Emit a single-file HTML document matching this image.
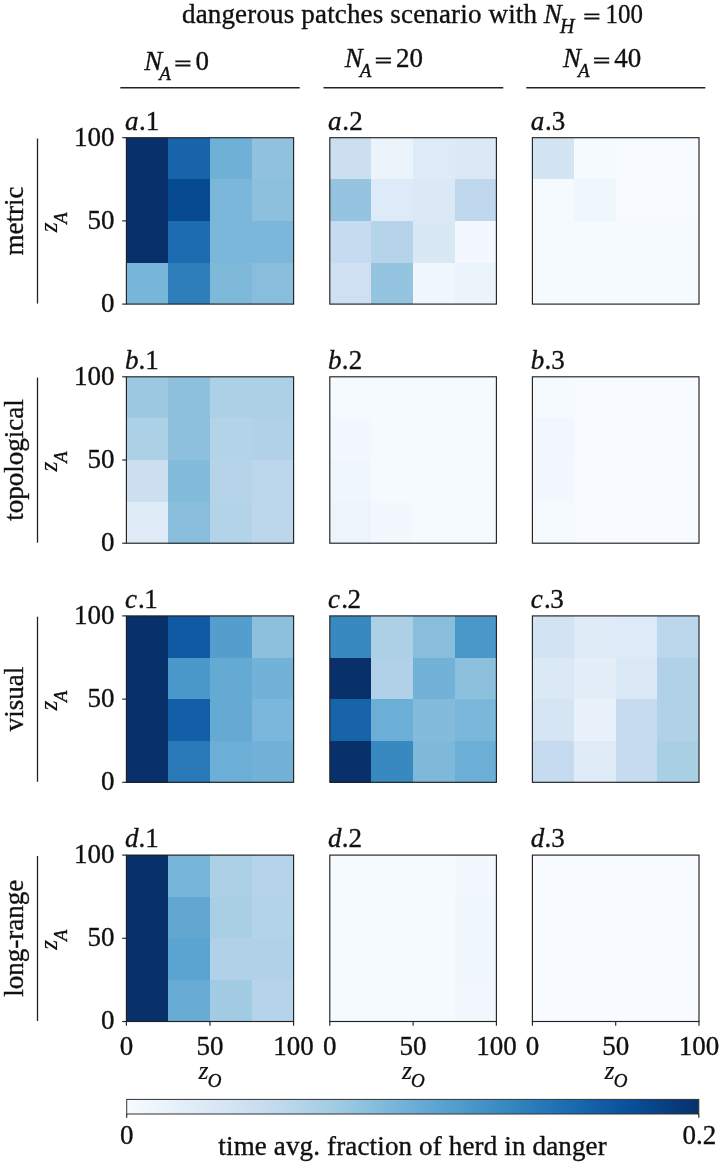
<!DOCTYPE html>
<html><head><meta charset="utf-8"><title>figure</title>
<style>html,body{margin:0;padding:0;background:#fff}svg{display:block}text{font-family:"Liberation Serif",serif;fill:#111;stroke:#111;stroke-width:0.35px}</style>
</head><body>
<svg width="720" height="1162" viewBox="0 0 720 1162">
<defs><linearGradient id="cb" x1="0" x2="1" y1="0" y2="0"><stop offset="0.0" stop-color="#f7fbff"/><stop offset="0.125" stop-color="#deebf7"/><stop offset="0.25" stop-color="#c6dbef"/><stop offset="0.375" stop-color="#9ecae1"/><stop offset="0.5" stop-color="#6baed6"/><stop offset="0.625" stop-color="#4292c6"/><stop offset="0.75" stop-color="#2171b5"/><stop offset="0.875" stop-color="#08519c"/><stop offset="1.0" stop-color="#08306b"/></linearGradient></defs>
<rect width="720" height="1162" fill="#fff"/>
<text x="182" y="22.9" font-size="27" text-anchor="start" textLength="355" lengthAdjust="spacing">dangerous patches scenario with</text>
<text x="543.8" y="22.9" font-size="27" font-style="italic" text-anchor="start">N</text>
<text x="560" y="32.5" font-size="20" font-style="italic" text-anchor="start">H</text>
<text transform="translate(583.5,23.299999999999997) scale(1.1,0.7)" font-size="27" style="stroke-width:1.2px">=</text>
<text x="605.6" y="22.9" font-size="27" text-anchor="start" textLength="37.4" lengthAdjust="spacingAndGlyphs">100</text>
<text x="144.3" y="69.8" font-size="27" font-style="italic" text-anchor="start">N</text>
<text x="159.3" y="79.5" font-size="19" font-style="italic" text-anchor="start">A</text>
<text transform="translate(174.60000000000002,70.2) scale(1.1,0.7)" font-size="27" style="stroke-width:1.2px">=</text>
<text x="195.60000000000002" y="69.8" font-size="27" text-anchor="start">0</text>
<text x="344.7" y="66.8" font-size="27" font-style="italic" text-anchor="start">N</text>
<text x="359.7" y="76.5" font-size="19" font-style="italic" text-anchor="start">A</text>
<text transform="translate(375.0,67.2) scale(1.1,0.7)" font-size="27" style="stroke-width:1.2px">=</text>
<text x="396.0" y="66.8" font-size="27" text-anchor="start">20</text>
<text x="563.0" y="66.8" font-size="27" font-style="italic" text-anchor="start">N</text>
<text x="578.0" y="76.5" font-size="19" font-style="italic" text-anchor="start">A</text>
<text transform="translate(593.3,67.2) scale(1.1,0.7)" font-size="27" style="stroke-width:1.2px">=</text>
<text x="614.3" y="66.8" font-size="27" text-anchor="start">40</text>
<line x1="120.3" y1="87.7" x2="299.7" y2="87.7" stroke="#222" stroke-width="1.5"/>
<line x1="323.5" y1="87.7" x2="503.3" y2="87.7" stroke="#222" stroke-width="1.5"/>
<line x1="526.3" y1="87.7" x2="705.3" y2="87.7" stroke="#222" stroke-width="1.5"/>
<text transform="translate(23.1,220.89999999999998) rotate(-90)" font-size="27" text-anchor="middle">metric</text>
<line x1="37.5" y1="138.5" x2="37.5" y2="303.6" stroke="#222" stroke-width="1.3"/>
<g transform="translate(57.4,220.89999999999998) rotate(-90)"><text x="-11.4" y="0" font-size="25.5" font-style="italic" style="stroke-width:0.15px">z</text><text x="-2.8" y="9.4" font-size="18.5" font-style="italic">A</text></g>
<rect x="126.40" y="137.70" width="42.10" height="41.90" fill="#08306b" shape-rendering="crispEdges"/>
<rect x="168.20" y="137.70" width="42.10" height="41.90" fill="#1764ab" shape-rendering="crispEdges"/>
<rect x="210.00" y="137.70" width="42.10" height="41.90" fill="#6fb0d7" shape-rendering="crispEdges"/>
<rect x="251.80" y="137.70" width="42.10" height="41.90" fill="#90c2de" shape-rendering="crispEdges"/>
<rect x="126.40" y="179.30" width="42.10" height="41.90" fill="#08306b" shape-rendering="crispEdges"/>
<rect x="168.20" y="179.30" width="42.10" height="41.90" fill="#084a92" shape-rendering="crispEdges"/>
<rect x="210.00" y="179.30" width="42.10" height="41.90" fill="#7bb7da" shape-rendering="crispEdges"/>
<rect x="251.80" y="179.30" width="42.10" height="41.90" fill="#8cc0dd" shape-rendering="crispEdges"/>
<rect x="126.40" y="220.90" width="42.10" height="41.90" fill="#08306b" shape-rendering="crispEdges"/>
<rect x="168.20" y="220.90" width="42.10" height="41.90" fill="#1d6cb1" shape-rendering="crispEdges"/>
<rect x="210.00" y="220.90" width="42.10" height="41.90" fill="#7bb7da" shape-rendering="crispEdges"/>
<rect x="251.80" y="220.90" width="42.10" height="41.90" fill="#7bb7da" shape-rendering="crispEdges"/>
<rect x="126.40" y="262.50" width="42.10" height="41.90" fill="#77b5d9" shape-rendering="crispEdges"/>
<rect x="168.20" y="262.50" width="42.10" height="41.90" fill="#2e7ebc" shape-rendering="crispEdges"/>
<rect x="210.00" y="262.50" width="42.10" height="41.90" fill="#7fb9da" shape-rendering="crispEdges"/>
<rect x="251.80" y="262.50" width="42.10" height="41.90" fill="#88bedc" shape-rendering="crispEdges"/>
<rect x="126.4" y="137.7" width="167.2" height="166.4" fill="none" stroke="#222" stroke-width="1.15"/>
<text x="125.10000000000001" y="129.5" font-size="27" text-anchor="start"><tspan font-style="italic">a</tspan><tspan x="138.9">.</tspan><tspan x="145.8">1</tspan></text>
<line x1="122.2" y1="137.7" x2="126.4" y2="137.7" stroke="#222" stroke-width="1.15"/>
<text x="114.4" y="145.6" font-size="27" text-anchor="end">100</text>
<line x1="122.2" y1="220.89999999999998" x2="126.4" y2="220.89999999999998" stroke="#222" stroke-width="1.15"/>
<text x="114.4" y="228.79999999999998" font-size="27" text-anchor="end">50</text>
<line x1="122.2" y1="304.1" x2="126.4" y2="304.1" stroke="#222" stroke-width="1.15"/>
<text x="114.4" y="312.0" font-size="27" text-anchor="end">0</text>
<rect x="329.80" y="137.70" width="41.95" height="41.90" fill="#ccdff1" shape-rendering="crispEdges"/>
<rect x="371.45" y="137.70" width="41.95" height="41.90" fill="#ebf3fb" shape-rendering="crispEdges"/>
<rect x="413.10" y="137.70" width="41.95" height="41.90" fill="#ddeaf7" shape-rendering="crispEdges"/>
<rect x="454.75" y="137.70" width="41.95" height="41.90" fill="#dbe9f6" shape-rendering="crispEdges"/>
<rect x="329.80" y="179.30" width="41.95" height="41.90" fill="#94c4df" shape-rendering="crispEdges"/>
<rect x="371.45" y="179.30" width="41.95" height="41.90" fill="#ddeaf7" shape-rendering="crispEdges"/>
<rect x="413.10" y="179.30" width="41.95" height="41.90" fill="#dbe9f6" shape-rendering="crispEdges"/>
<rect x="454.75" y="179.30" width="41.95" height="41.90" fill="#c0d8ed" shape-rendering="crispEdges"/>
<rect x="329.80" y="220.90" width="41.95" height="41.90" fill="#c6dbef" shape-rendering="crispEdges"/>
<rect x="371.45" y="220.90" width="41.95" height="41.90" fill="#b6d4e9" shape-rendering="crispEdges"/>
<rect x="413.10" y="220.90" width="41.95" height="41.90" fill="#d9e8f5" shape-rendering="crispEdges"/>
<rect x="454.75" y="220.90" width="41.95" height="41.90" fill="#f3f8fe" shape-rendering="crispEdges"/>
<rect x="329.80" y="262.50" width="41.95" height="41.90" fill="#cee0f2" shape-rendering="crispEdges"/>
<rect x="371.45" y="262.50" width="41.95" height="41.90" fill="#94c4df" shape-rendering="crispEdges"/>
<rect x="413.10" y="262.50" width="41.95" height="41.90" fill="#eff6fc" shape-rendering="crispEdges"/>
<rect x="454.75" y="262.50" width="41.95" height="41.90" fill="#ebf3fb" shape-rendering="crispEdges"/>
<rect x="329.8" y="137.7" width="166.6" height="166.4" fill="none" stroke="#222" stroke-width="1.15"/>
<text x="328.1" y="129.5" font-size="27" text-anchor="start"><tspan font-style="italic">a</tspan><tspan x="342.3">.</tspan><tspan x="349.2">2</tspan></text>
<rect x="532.40" y="137.70" width="41.95" height="41.90" fill="#d3e4f3" shape-rendering="crispEdges"/>
<rect x="574.05" y="137.70" width="41.95" height="41.90" fill="#f5fafe" shape-rendering="crispEdges"/>
<rect x="615.70" y="137.70" width="41.95" height="41.90" fill="#f7fbff" shape-rendering="crispEdges"/>
<rect x="657.35" y="137.70" width="41.95" height="41.90" fill="#f7fbff" shape-rendering="crispEdges"/>
<rect x="532.40" y="179.30" width="41.95" height="41.90" fill="#f5fafe" shape-rendering="crispEdges"/>
<rect x="574.05" y="179.30" width="41.95" height="41.90" fill="#eff6fc" shape-rendering="crispEdges"/>
<rect x="615.70" y="179.30" width="41.95" height="41.90" fill="#f7fbff" shape-rendering="crispEdges"/>
<rect x="657.35" y="179.30" width="41.95" height="41.90" fill="#f7fbff" shape-rendering="crispEdges"/>
<rect x="532.40" y="220.90" width="41.95" height="41.90" fill="#f5fafe" shape-rendering="crispEdges"/>
<rect x="574.05" y="220.90" width="41.95" height="41.90" fill="#f5fafe" shape-rendering="crispEdges"/>
<rect x="615.70" y="220.90" width="41.95" height="41.90" fill="#f5fafe" shape-rendering="crispEdges"/>
<rect x="657.35" y="220.90" width="41.95" height="41.90" fill="#f5fafe" shape-rendering="crispEdges"/>
<rect x="532.40" y="262.50" width="41.95" height="41.90" fill="#f5fafe" shape-rendering="crispEdges"/>
<rect x="574.05" y="262.50" width="41.95" height="41.90" fill="#f5fafe" shape-rendering="crispEdges"/>
<rect x="615.70" y="262.50" width="41.95" height="41.90" fill="#f5fafe" shape-rendering="crispEdges"/>
<rect x="657.35" y="262.50" width="41.95" height="41.90" fill="#f5fafe" shape-rendering="crispEdges"/>
<rect x="532.4" y="137.7" width="166.6" height="166.4" fill="none" stroke="#222" stroke-width="1.15"/>
<text x="530.6999999999999" y="129.5" font-size="27" text-anchor="start"><tspan font-style="italic">a</tspan><tspan x="544.9">.</tspan><tspan x="551.8">3</tspan></text>
<text transform="translate(23.1,460.0) rotate(-90)" font-size="27" text-anchor="middle">topological</text>
<line x1="37.5" y1="377.6" x2="37.5" y2="542.7" stroke="#222" stroke-width="1.3"/>
<g transform="translate(57.4,460.0) rotate(-90)"><text x="-11.4" y="0" font-size="25.5" font-style="italic" style="stroke-width:0.15px">z</text><text x="-2.8" y="9.4" font-size="18.5" font-style="italic">A</text></g>
<rect x="126.40" y="376.80" width="42.10" height="41.90" fill="#9cc9e1" shape-rendering="crispEdges"/>
<rect x="168.20" y="376.80" width="42.10" height="41.90" fill="#8cc0dd" shape-rendering="crispEdges"/>
<rect x="210.00" y="376.80" width="42.10" height="41.90" fill="#acd0e6" shape-rendering="crispEdges"/>
<rect x="251.80" y="376.80" width="42.10" height="41.90" fill="#acd0e6" shape-rendering="crispEdges"/>
<rect x="126.40" y="418.40" width="42.10" height="41.90" fill="#acd0e6" shape-rendering="crispEdges"/>
<rect x="168.20" y="418.40" width="42.10" height="41.90" fill="#8cc0dd" shape-rendering="crispEdges"/>
<rect x="210.00" y="418.40" width="42.10" height="41.90" fill="#b3d3e8" shape-rendering="crispEdges"/>
<rect x="251.80" y="418.40" width="42.10" height="41.90" fill="#b0d1e7" shape-rendering="crispEdges"/>
<rect x="126.40" y="460.00" width="42.10" height="41.90" fill="#ccdff1" shape-rendering="crispEdges"/>
<rect x="168.20" y="460.00" width="42.10" height="41.90" fill="#83bbdb" shape-rendering="crispEdges"/>
<rect x="210.00" y="460.00" width="42.10" height="41.90" fill="#b6d4e9" shape-rendering="crispEdges"/>
<rect x="251.80" y="460.00" width="42.10" height="41.90" fill="#bcd7ec" shape-rendering="crispEdges"/>
<rect x="126.40" y="501.60" width="42.10" height="41.90" fill="#dfecf7" shape-rendering="crispEdges"/>
<rect x="168.20" y="501.60" width="42.10" height="41.90" fill="#88bedc" shape-rendering="crispEdges"/>
<rect x="210.00" y="501.60" width="42.10" height="41.90" fill="#b3d3e8" shape-rendering="crispEdges"/>
<rect x="251.80" y="501.60" width="42.10" height="41.90" fill="#bcd7ec" shape-rendering="crispEdges"/>
<rect x="126.4" y="376.8" width="167.2" height="166.4" fill="none" stroke="#222" stroke-width="1.15"/>
<text x="125.10000000000001" y="368.6" font-size="27" text-anchor="start"><tspan font-style="italic">b</tspan><tspan x="138.4">.</tspan><tspan x="145.3">1</tspan></text>
<line x1="122.2" y1="376.8" x2="126.4" y2="376.8" stroke="#222" stroke-width="1.15"/>
<text x="114.4" y="384.7" font-size="27" text-anchor="end">100</text>
<line x1="122.2" y1="460.0" x2="126.4" y2="460.0" stroke="#222" stroke-width="1.15"/>
<text x="114.4" y="467.9" font-size="27" text-anchor="end">50</text>
<line x1="122.2" y1="543.2" x2="126.4" y2="543.2" stroke="#222" stroke-width="1.15"/>
<text x="114.4" y="551.1" font-size="27" text-anchor="end">0</text>
<rect x="329.80" y="376.80" width="41.95" height="41.90" fill="#f5fafe" shape-rendering="crispEdges"/>
<rect x="371.45" y="376.80" width="41.95" height="41.90" fill="#f5fafe" shape-rendering="crispEdges"/>
<rect x="413.10" y="376.80" width="41.95" height="41.90" fill="#f5fafe" shape-rendering="crispEdges"/>
<rect x="454.75" y="376.80" width="41.95" height="41.90" fill="#f5fafe" shape-rendering="crispEdges"/>
<rect x="329.80" y="418.40" width="41.95" height="41.90" fill="#f3f8fe" shape-rendering="crispEdges"/>
<rect x="371.45" y="418.40" width="41.95" height="41.90" fill="#f5fafe" shape-rendering="crispEdges"/>
<rect x="413.10" y="418.40" width="41.95" height="41.90" fill="#f5fafe" shape-rendering="crispEdges"/>
<rect x="454.75" y="418.40" width="41.95" height="41.90" fill="#f5fafe" shape-rendering="crispEdges"/>
<rect x="329.80" y="460.00" width="41.95" height="41.90" fill="#eff6fc" shape-rendering="crispEdges"/>
<rect x="371.45" y="460.00" width="41.95" height="41.90" fill="#f5fafe" shape-rendering="crispEdges"/>
<rect x="413.10" y="460.00" width="41.95" height="41.90" fill="#f5fafe" shape-rendering="crispEdges"/>
<rect x="454.75" y="460.00" width="41.95" height="41.90" fill="#f5fafe" shape-rendering="crispEdges"/>
<rect x="329.80" y="501.60" width="41.95" height="41.90" fill="#edf5fc" shape-rendering="crispEdges"/>
<rect x="371.45" y="501.60" width="41.95" height="41.90" fill="#f3f8fe" shape-rendering="crispEdges"/>
<rect x="413.10" y="501.60" width="41.95" height="41.90" fill="#f5fafe" shape-rendering="crispEdges"/>
<rect x="454.75" y="501.60" width="41.95" height="41.90" fill="#f5fafe" shape-rendering="crispEdges"/>
<rect x="329.8" y="376.8" width="166.6" height="166.4" fill="none" stroke="#222" stroke-width="1.15"/>
<text x="328.1" y="368.6" font-size="27" text-anchor="start"><tspan font-style="italic">b</tspan><tspan x="341.8">.</tspan><tspan x="348.7">2</tspan></text>
<rect x="532.40" y="376.80" width="41.95" height="41.90" fill="#f5fafe" shape-rendering="crispEdges"/>
<rect x="574.05" y="376.80" width="41.95" height="41.90" fill="#f7fbff" shape-rendering="crispEdges"/>
<rect x="615.70" y="376.80" width="41.95" height="41.90" fill="#f7fbff" shape-rendering="crispEdges"/>
<rect x="657.35" y="376.80" width="41.95" height="41.90" fill="#f7fbff" shape-rendering="crispEdges"/>
<rect x="532.40" y="418.40" width="41.95" height="41.90" fill="#f1f7fd" shape-rendering="crispEdges"/>
<rect x="574.05" y="418.40" width="41.95" height="41.90" fill="#f7fbff" shape-rendering="crispEdges"/>
<rect x="615.70" y="418.40" width="41.95" height="41.90" fill="#f7fbff" shape-rendering="crispEdges"/>
<rect x="657.35" y="418.40" width="41.95" height="41.90" fill="#f7fbff" shape-rendering="crispEdges"/>
<rect x="532.40" y="460.00" width="41.95" height="41.90" fill="#f3f8fe" shape-rendering="crispEdges"/>
<rect x="574.05" y="460.00" width="41.95" height="41.90" fill="#f7fbff" shape-rendering="crispEdges"/>
<rect x="615.70" y="460.00" width="41.95" height="41.90" fill="#f7fbff" shape-rendering="crispEdges"/>
<rect x="657.35" y="460.00" width="41.95" height="41.90" fill="#f7fbff" shape-rendering="crispEdges"/>
<rect x="532.40" y="501.60" width="41.95" height="41.90" fill="#f5fafe" shape-rendering="crispEdges"/>
<rect x="574.05" y="501.60" width="41.95" height="41.90" fill="#f7fbff" shape-rendering="crispEdges"/>
<rect x="615.70" y="501.60" width="41.95" height="41.90" fill="#f7fbff" shape-rendering="crispEdges"/>
<rect x="657.35" y="501.60" width="41.95" height="41.90" fill="#f7fbff" shape-rendering="crispEdges"/>
<rect x="532.4" y="376.8" width="166.6" height="166.4" fill="none" stroke="#222" stroke-width="1.15"/>
<text x="530.6999999999999" y="368.6" font-size="27" text-anchor="start"><tspan font-style="italic">b</tspan><tspan x="544.4">.</tspan><tspan x="551.3">3</tspan></text>
<text transform="translate(23.1,699.1) rotate(-90)" font-size="27" text-anchor="middle">visual</text>
<line x1="37.5" y1="616.6999999999999" x2="37.5" y2="781.8" stroke="#222" stroke-width="1.3"/>
<g transform="translate(57.4,699.1) rotate(-90)"><text x="-11.4" y="0" font-size="25.5" font-style="italic" style="stroke-width:0.15px">z</text><text x="-2.8" y="9.4" font-size="18.5" font-style="italic">A</text></g>
<rect x="126.40" y="615.90" width="42.10" height="41.90" fill="#08306b" shape-rendering="crispEdges"/>
<rect x="168.20" y="615.90" width="42.10" height="41.90" fill="#0f5aa3" shape-rendering="crispEdges"/>
<rect x="210.00" y="615.90" width="42.10" height="41.90" fill="#549ecd" shape-rendering="crispEdges"/>
<rect x="251.80" y="615.90" width="42.10" height="41.90" fill="#8cc0dd" shape-rendering="crispEdges"/>
<rect x="126.40" y="657.50" width="42.10" height="41.90" fill="#08306b" shape-rendering="crispEdges"/>
<rect x="168.20" y="657.50" width="42.10" height="41.90" fill="#4a98c9" shape-rendering="crispEdges"/>
<rect x="210.00" y="657.50" width="42.10" height="41.90" fill="#64aad3" shape-rendering="crispEdges"/>
<rect x="251.80" y="657.50" width="42.10" height="41.90" fill="#73b2d8" shape-rendering="crispEdges"/>
<rect x="126.40" y="699.10" width="42.10" height="41.90" fill="#08306b" shape-rendering="crispEdges"/>
<rect x="168.20" y="699.10" width="42.10" height="41.90" fill="#135fa7" shape-rendering="crispEdges"/>
<rect x="210.00" y="699.10" width="42.10" height="41.90" fill="#64aad3" shape-rendering="crispEdges"/>
<rect x="251.80" y="699.10" width="42.10" height="41.90" fill="#7bb7da" shape-rendering="crispEdges"/>
<rect x="126.40" y="740.70" width="42.10" height="41.90" fill="#08306b" shape-rendering="crispEdges"/>
<rect x="168.20" y="740.70" width="42.10" height="41.90" fill="#2979b9" shape-rendering="crispEdges"/>
<rect x="210.00" y="740.70" width="42.10" height="41.90" fill="#6baed6" shape-rendering="crispEdges"/>
<rect x="251.80" y="740.70" width="42.10" height="41.90" fill="#73b2d8" shape-rendering="crispEdges"/>
<rect x="126.4" y="615.9" width="167.2" height="166.4" fill="none" stroke="#222" stroke-width="1.15"/>
<text x="125.10000000000001" y="607.6999999999999" font-size="27" text-anchor="start"><tspan font-style="italic">c</tspan><tspan x="137.9">.</tspan><tspan x="144.2">1</tspan></text>
<line x1="122.2" y1="615.9" x2="126.4" y2="615.9" stroke="#222" stroke-width="1.15"/>
<text x="114.4" y="623.8" font-size="27" text-anchor="end">100</text>
<line x1="122.2" y1="699.1" x2="126.4" y2="699.1" stroke="#222" stroke-width="1.15"/>
<text x="114.4" y="707.0" font-size="27" text-anchor="end">50</text>
<line x1="122.2" y1="782.3" x2="126.4" y2="782.3" stroke="#222" stroke-width="1.15"/>
<text x="114.4" y="790.1999999999999" font-size="27" text-anchor="end">0</text>
<rect x="329.80" y="615.90" width="41.95" height="41.90" fill="#3989c1" shape-rendering="crispEdges"/>
<rect x="371.45" y="615.90" width="41.95" height="41.90" fill="#acd0e6" shape-rendering="crispEdges"/>
<rect x="413.10" y="615.90" width="41.95" height="41.90" fill="#88bedc" shape-rendering="crispEdges"/>
<rect x="454.75" y="615.90" width="41.95" height="41.90" fill="#4a98c9" shape-rendering="crispEdges"/>
<rect x="329.80" y="657.50" width="41.95" height="41.90" fill="#08306b" shape-rendering="crispEdges"/>
<rect x="371.45" y="657.50" width="41.95" height="41.90" fill="#b0d1e7" shape-rendering="crispEdges"/>
<rect x="413.10" y="657.50" width="41.95" height="41.90" fill="#73b2d8" shape-rendering="crispEdges"/>
<rect x="454.75" y="657.50" width="41.95" height="41.90" fill="#8cc0dd" shape-rendering="crispEdges"/>
<rect x="329.80" y="699.10" width="41.95" height="41.90" fill="#1764ab" shape-rendering="crispEdges"/>
<rect x="371.45" y="699.10" width="41.95" height="41.90" fill="#6baed6" shape-rendering="crispEdges"/>
<rect x="413.10" y="699.10" width="41.95" height="41.90" fill="#83bbdb" shape-rendering="crispEdges"/>
<rect x="454.75" y="699.10" width="41.95" height="41.90" fill="#7bb7da" shape-rendering="crispEdges"/>
<rect x="329.80" y="740.70" width="41.95" height="41.90" fill="#08306b" shape-rendering="crispEdges"/>
<rect x="371.45" y="740.70" width="41.95" height="41.90" fill="#3989c1" shape-rendering="crispEdges"/>
<rect x="413.10" y="740.70" width="41.95" height="41.90" fill="#7fb9da" shape-rendering="crispEdges"/>
<rect x="454.75" y="740.70" width="41.95" height="41.90" fill="#6baed6" shape-rendering="crispEdges"/>
<rect x="329.8" y="615.9" width="166.6" height="166.4" fill="none" stroke="#222" stroke-width="1.15"/>
<text x="328.1" y="607.6999999999999" font-size="27" text-anchor="start"><tspan font-style="italic">c</tspan><tspan x="341.3">.</tspan><tspan x="347.6">2</tspan></text>
<rect x="532.40" y="615.90" width="41.95" height="41.90" fill="#d2e3f3" shape-rendering="crispEdges"/>
<rect x="574.05" y="615.90" width="41.95" height="41.90" fill="#dfecf7" shape-rendering="crispEdges"/>
<rect x="615.70" y="615.90" width="41.95" height="41.90" fill="#ddeaf7" shape-rendering="crispEdges"/>
<rect x="657.35" y="615.90" width="41.95" height="41.90" fill="#bcd7ec" shape-rendering="crispEdges"/>
<rect x="532.40" y="657.50" width="41.95" height="41.90" fill="#dbe9f6" shape-rendering="crispEdges"/>
<rect x="574.05" y="657.50" width="41.95" height="41.90" fill="#e3eef9" shape-rendering="crispEdges"/>
<rect x="615.70" y="657.50" width="41.95" height="41.90" fill="#dbe9f6" shape-rendering="crispEdges"/>
<rect x="657.35" y="657.50" width="41.95" height="41.90" fill="#b0d1e7" shape-rendering="crispEdges"/>
<rect x="532.40" y="699.10" width="41.95" height="41.90" fill="#d5e5f4" shape-rendering="crispEdges"/>
<rect x="574.05" y="699.10" width="41.95" height="41.90" fill="#e9f2fb" shape-rendering="crispEdges"/>
<rect x="615.70" y="699.10" width="41.95" height="41.90" fill="#c6dbef" shape-rendering="crispEdges"/>
<rect x="657.35" y="699.10" width="41.95" height="41.90" fill="#b0d1e7" shape-rendering="crispEdges"/>
<rect x="532.40" y="740.70" width="41.95" height="41.90" fill="#c6dbef" shape-rendering="crispEdges"/>
<rect x="574.05" y="740.70" width="41.95" height="41.90" fill="#dfecf7" shape-rendering="crispEdges"/>
<rect x="615.70" y="740.70" width="41.95" height="41.90" fill="#c6dbef" shape-rendering="crispEdges"/>
<rect x="657.35" y="740.70" width="41.95" height="41.90" fill="#a9cfe5" shape-rendering="crispEdges"/>
<rect x="532.4" y="615.9" width="166.6" height="166.4" fill="none" stroke="#222" stroke-width="1.15"/>
<text x="530.6999999999999" y="607.6999999999999" font-size="27" text-anchor="start"><tspan font-style="italic">c</tspan><tspan x="543.9">.</tspan><tspan x="550.2">3</tspan></text>
<text transform="translate(23.1,938.3000000000001) rotate(-90)" font-size="27" text-anchor="middle">long-range</text>
<line x1="37.5" y1="855.9" x2="37.5" y2="1021.0" stroke="#222" stroke-width="1.3"/>
<g transform="translate(57.4,938.3000000000001) rotate(-90)"><text x="-11.4" y="0" font-size="25.5" font-style="italic" style="stroke-width:0.15px">z</text><text x="-2.8" y="9.4" font-size="18.5" font-style="italic">A</text></g>
<rect x="126.40" y="855.10" width="42.10" height="41.90" fill="#08306b" shape-rendering="crispEdges"/>
<rect x="168.20" y="855.10" width="42.10" height="41.90" fill="#77b5d9" shape-rendering="crispEdges"/>
<rect x="210.00" y="855.10" width="42.10" height="41.90" fill="#acd0e6" shape-rendering="crispEdges"/>
<rect x="251.80" y="855.10" width="42.10" height="41.90" fill="#b6d4e9" shape-rendering="crispEdges"/>
<rect x="126.40" y="896.70" width="42.10" height="41.90" fill="#08306b" shape-rendering="crispEdges"/>
<rect x="168.20" y="896.70" width="42.10" height="41.90" fill="#61a7d2" shape-rendering="crispEdges"/>
<rect x="210.00" y="896.70" width="42.10" height="41.90" fill="#a9cfe5" shape-rendering="crispEdges"/>
<rect x="251.80" y="896.70" width="42.10" height="41.90" fill="#b3d3e8" shape-rendering="crispEdges"/>
<rect x="126.40" y="938.30" width="42.10" height="41.90" fill="#08306b" shape-rendering="crispEdges"/>
<rect x="168.20" y="938.30" width="42.10" height="41.90" fill="#5ba3d0" shape-rendering="crispEdges"/>
<rect x="210.00" y="938.30" width="42.10" height="41.90" fill="#b0d1e7" shape-rendering="crispEdges"/>
<rect x="251.80" y="938.30" width="42.10" height="41.90" fill="#b0d1e7" shape-rendering="crispEdges"/>
<rect x="126.40" y="979.90" width="42.10" height="41.90" fill="#08306b" shape-rendering="crispEdges"/>
<rect x="168.20" y="979.90" width="42.10" height="41.90" fill="#68acd5" shape-rendering="crispEdges"/>
<rect x="210.00" y="979.90" width="42.10" height="41.90" fill="#a0cbe2" shape-rendering="crispEdges"/>
<rect x="251.80" y="979.90" width="42.10" height="41.90" fill="#b6d4e9" shape-rendering="crispEdges"/>
<rect x="126.4" y="855.1" width="167.2" height="166.4" fill="none" stroke="#222" stroke-width="1.15"/>
<text x="125.10000000000001" y="846.9" font-size="27" text-anchor="start"><tspan font-style="italic">d</tspan><tspan x="138.4">.</tspan><tspan x="145.2">1</tspan></text>
<line x1="122.2" y1="855.1" x2="126.4" y2="855.1" stroke="#222" stroke-width="1.15"/>
<text x="114.4" y="863.0" font-size="27" text-anchor="end">100</text>
<line x1="122.2" y1="938.3000000000001" x2="126.4" y2="938.3000000000001" stroke="#222" stroke-width="1.15"/>
<text x="114.4" y="946.2" font-size="27" text-anchor="end">50</text>
<line x1="122.2" y1="1021.5" x2="126.4" y2="1021.5" stroke="#222" stroke-width="1.15"/>
<text x="114.4" y="1029.4" font-size="27" text-anchor="end">0</text>
<line x1="126.4" y1="1021.5" x2="126.4" y2="1025.7" stroke="#222" stroke-width="1.15"/>
<text x="126.4" y="1054.6" font-size="27" text-anchor="middle">0</text>
<line x1="210.0" y1="1021.5" x2="210.0" y2="1025.7" stroke="#222" stroke-width="1.15"/>
<text x="210.0" y="1054.6" font-size="27" text-anchor="middle">50</text>
<line x1="293.6" y1="1021.5" x2="293.6" y2="1025.7" stroke="#222" stroke-width="1.15"/>
<text x="293.6" y="1054.6" font-size="27" text-anchor="middle">100</text>
<text x="198.60000000000002" y="1079" font-size="25.5" font-style="italic" text-anchor="start" style="stroke-width:0.15px">z</text>
<text x="207.7" y="1086.8" font-size="19" font-style="italic" text-anchor="start">O</text>
<rect x="329.80" y="855.10" width="41.95" height="41.90" fill="#f5fafe" shape-rendering="crispEdges"/>
<rect x="371.45" y="855.10" width="41.95" height="41.90" fill="#f5fafe" shape-rendering="crispEdges"/>
<rect x="413.10" y="855.10" width="41.95" height="41.90" fill="#f5fafe" shape-rendering="crispEdges"/>
<rect x="454.75" y="855.10" width="41.95" height="41.90" fill="#f3f8fe" shape-rendering="crispEdges"/>
<rect x="329.80" y="896.70" width="41.95" height="41.90" fill="#f5fafe" shape-rendering="crispEdges"/>
<rect x="371.45" y="896.70" width="41.95" height="41.90" fill="#f5fafe" shape-rendering="crispEdges"/>
<rect x="413.10" y="896.70" width="41.95" height="41.90" fill="#f5fafe" shape-rendering="crispEdges"/>
<rect x="454.75" y="896.70" width="41.95" height="41.90" fill="#eff6fc" shape-rendering="crispEdges"/>
<rect x="329.80" y="938.30" width="41.95" height="41.90" fill="#f5fafe" shape-rendering="crispEdges"/>
<rect x="371.45" y="938.30" width="41.95" height="41.90" fill="#f5fafe" shape-rendering="crispEdges"/>
<rect x="413.10" y="938.30" width="41.95" height="41.90" fill="#f5fafe" shape-rendering="crispEdges"/>
<rect x="454.75" y="938.30" width="41.95" height="41.90" fill="#eff6fc" shape-rendering="crispEdges"/>
<rect x="329.80" y="979.90" width="41.95" height="41.90" fill="#f5fafe" shape-rendering="crispEdges"/>
<rect x="371.45" y="979.90" width="41.95" height="41.90" fill="#f5fafe" shape-rendering="crispEdges"/>
<rect x="413.10" y="979.90" width="41.95" height="41.90" fill="#f5fafe" shape-rendering="crispEdges"/>
<rect x="454.75" y="979.90" width="41.95" height="41.90" fill="#f1f7fd" shape-rendering="crispEdges"/>
<rect x="329.8" y="855.1" width="166.6" height="166.4" fill="none" stroke="#222" stroke-width="1.15"/>
<text x="328.1" y="846.9" font-size="27" text-anchor="start"><tspan font-style="italic">d</tspan><tspan x="341.8">.</tspan><tspan x="348.6">2</tspan></text>
<line x1="329.8" y1="1021.5" x2="329.8" y2="1025.7" stroke="#222" stroke-width="1.15"/>
<text x="329.8" y="1054.6" font-size="27" text-anchor="middle">0</text>
<line x1="413.1" y1="1021.5" x2="413.1" y2="1025.7" stroke="#222" stroke-width="1.15"/>
<text x="413.1" y="1054.6" font-size="27" text-anchor="middle">50</text>
<line x1="496.4" y1="1021.5" x2="496.4" y2="1025.7" stroke="#222" stroke-width="1.15"/>
<text x="496.4" y="1054.6" font-size="27" text-anchor="middle">100</text>
<text x="402.0" y="1079" font-size="25.5" font-style="italic" text-anchor="start" style="stroke-width:0.15px">z</text>
<text x="411.1" y="1086.8" font-size="19" font-style="italic" text-anchor="start">O</text>
<rect x="532.40" y="855.10" width="41.95" height="41.90" fill="#f7fbff" shape-rendering="crispEdges"/>
<rect x="574.05" y="855.10" width="41.95" height="41.90" fill="#f7fbff" shape-rendering="crispEdges"/>
<rect x="615.70" y="855.10" width="41.95" height="41.90" fill="#f7fbff" shape-rendering="crispEdges"/>
<rect x="657.35" y="855.10" width="41.95" height="41.90" fill="#f7fbff" shape-rendering="crispEdges"/>
<rect x="532.40" y="896.70" width="41.95" height="41.90" fill="#f7fbff" shape-rendering="crispEdges"/>
<rect x="574.05" y="896.70" width="41.95" height="41.90" fill="#f7fbff" shape-rendering="crispEdges"/>
<rect x="615.70" y="896.70" width="41.95" height="41.90" fill="#f7fbff" shape-rendering="crispEdges"/>
<rect x="657.35" y="896.70" width="41.95" height="41.90" fill="#f7fbff" shape-rendering="crispEdges"/>
<rect x="532.40" y="938.30" width="41.95" height="41.90" fill="#f7fbff" shape-rendering="crispEdges"/>
<rect x="574.05" y="938.30" width="41.95" height="41.90" fill="#f7fbff" shape-rendering="crispEdges"/>
<rect x="615.70" y="938.30" width="41.95" height="41.90" fill="#f7fbff" shape-rendering="crispEdges"/>
<rect x="657.35" y="938.30" width="41.95" height="41.90" fill="#f7fbff" shape-rendering="crispEdges"/>
<rect x="532.40" y="979.90" width="41.95" height="41.90" fill="#f7fbff" shape-rendering="crispEdges"/>
<rect x="574.05" y="979.90" width="41.95" height="41.90" fill="#f7fbff" shape-rendering="crispEdges"/>
<rect x="615.70" y="979.90" width="41.95" height="41.90" fill="#f7fbff" shape-rendering="crispEdges"/>
<rect x="657.35" y="979.90" width="41.95" height="41.90" fill="#f7fbff" shape-rendering="crispEdges"/>
<rect x="532.4" y="855.1" width="166.6" height="166.4" fill="none" stroke="#222" stroke-width="1.15"/>
<text x="530.6999999999999" y="846.9" font-size="27" text-anchor="start"><tspan font-style="italic">d</tspan><tspan x="544.4">.</tspan><tspan x="551.2">3</tspan></text>
<line x1="532.4" y1="1021.5" x2="532.4" y2="1025.7" stroke="#222" stroke-width="1.15"/>
<text x="532.4" y="1054.6" font-size="27" text-anchor="middle">0</text>
<line x1="615.6999999999999" y1="1021.5" x2="615.6999999999999" y2="1025.7" stroke="#222" stroke-width="1.15"/>
<text x="615.6999999999999" y="1054.6" font-size="27" text-anchor="middle">50</text>
<line x1="699.0" y1="1021.5" x2="699.0" y2="1025.7" stroke="#222" stroke-width="1.15"/>
<text x="699.0" y="1054.6" font-size="27" text-anchor="middle">100</text>
<text x="604.6" y="1079" font-size="25.5" font-style="italic" text-anchor="start" style="stroke-width:0.15px">z</text>
<text x="613.6999999999999" y="1086.8" font-size="19" font-style="italic" text-anchor="start">O</text>
<rect x="126.7" y="1099.4" width="572.0999999999999" height="14.599999999999909" fill="url(#cb)" stroke="#333" stroke-width="1.0"/>
<line x1="126.7" y1="1114.0" x2="126.7" y2="1117.8" stroke="#222" stroke-width="1.15"/>
<line x1="698.8" y1="1114.0" x2="698.8" y2="1117.8" stroke="#222" stroke-width="1.15"/>
<text x="126.7" y="1143.5" font-size="27" text-anchor="middle">0</text>
<text x="682.5" y="1143.5" font-size="27" text-anchor="start">0.2</text>
<text x="218.3" y="1154.5" font-size="27" text-anchor="start" textLength="388.4" lengthAdjust="spacing">time avg. fraction of herd in danger</text>
</svg>
</body></html>
